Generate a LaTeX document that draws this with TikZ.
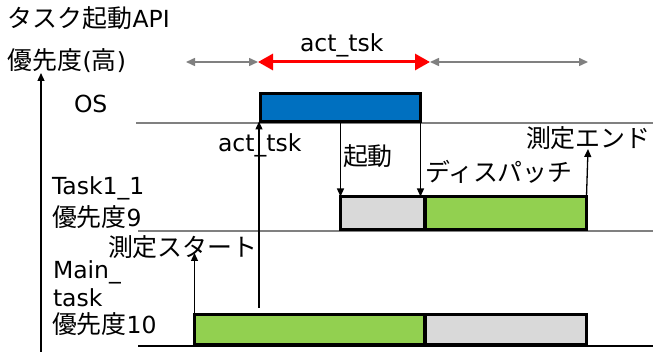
\documentclass[tikz,border=0pt]{standalone}
\usepackage{fontspec}
\setmainfont{DejaVu Sans}
\newfontfamily\cjk[Scale=1.06]{Noto Sans CJK JP}
\usetikzlibrary{arrows.meta}
\definecolor{osblue}{HTML}{0070C0}
\definecolor{rgreen}{HTML}{92D050}
\definecolor{rgray}{HTML}{D9D9D9}
\definecolor{linegray}{HTML}{808080}
\begin{document}
\begin{tikzpicture}[x=1pt,y=-1pt,
  every node/.style={inner sep=0pt, outer sep=0pt},
  txt/.style={anchor=base west, font=\fontsize{23.5}{28}\selectfont},
  bar/.style={draw=black, line width=3pt, rectangle},
  conn/.style={line width=1.3pt, -{Triangle[length=8pt,width=7pt]}},
  rule/.style={draw=linegray, line width=1.3pt},
  garrow/.style={draw=linegray, line width=1.5pt, {Triangle[length=9pt,width=8pt]}-{Triangle[length=9pt,width=8pt]}},
  rarrow/.style={draw=red, line width=3pt, {Triangle[length=15pt,width=16pt]}-{Triangle[length=15pt,width=16pt]}}]
\useasboundingbox (0,0) rectangle (653,352);
% baselines
\coordinate (l1a) at (136,123); \coordinate (l1b) at (653,123);
\coordinate (l2a) at (138,231); \coordinate (l2b) at (653,231);
\coordinate (l3a) at (138,346); \coordinate (l3b) at (653,346);
\draw[rule] (l1a) -- (l1b);
\draw[rule] (l2a) -- (l2b);
\draw[line width=1.3pt] (l3a) -- (l3b);
% axis
\coordinate (axb) at (41,352); \coordinate (axt) at (41,73);
\draw[conn] (axb) -- (axt);
% top arrows
\coordinate (a0) at (186,62); \coordinate (a1) at (258,62);
\coordinate (a2) at (430,62); \coordinate (a3) at (588,62);
\draw[garrow] (a0) -- (a1);
\draw[garrow] (a2) -- (a3);
\draw[rarrow] (a1) -- (a2);
% bars
\node[bar, fill=osblue, minimum width=160pt, minimum height=28pt] (os) at (340.5,107.5) {};
\node[bar, fill=rgray, minimum width=84pt, minimum height=33pt] (tg) at (382.5,213) {};
\node[bar, fill=rgreen, minimum width=161pt, minimum height=33pt] (tgr) at (506,213) {};
\node[bar, fill=rgreen, minimum width=230pt, minimum height=30pt] (mg) at (309.5,329.5) {};
\node[bar, fill=rgray, minimum width=161pt, minimum height=30pt] (mgr) at (506,329.5) {};
% connectors
\coordinate (actfoot) at (259,308);
\draw[conn] (actfoot) -- (actfoot |- os.south);
\draw[conn] (tg.north west |- os.south) -- (tg.north west);
\draw[conn] (os.south east) -- (os.south east |- tg.north);
\coordinate (endtop) at (588,149);
\draw[conn] (tgr.north east) -- (endtop);
\coordinate (starttop) at (194.5,253);
\draw[conn] (mg.south west) -- (starttop);
% labels
\node[txt] (title) at (8,28) {{\cjk タスク起動}API};
\node[txt] (prio) at (8,70) {{\cjk 優先度}({\cjk 高})};
\node[txt] (actlbl) at (300,52) {act\_tsk};
\node[txt] (oslbl) at (74,113) {OS};
\node[txt] (act2) at (218,152) {act\_tsk};
\node[txt] (kido) at (343,166) {\cjk 起動};
\node[txt] (disp) at (425,182) {\cjk ディスパッチ};
\node[txt] (mend) at (526,148) {\cjk 測定エンド};
\node[txt] (t1) at (52,195) {Task1\_1};
\node[txt] (t1p) at (52,227) {{\cjk 優先度}9};
\node[txt] (mstart) at (108,257) {\cjk 測定スタート};
\node[txt] (mn1) at (53,279) {Main\_};
\node[txt] (mn2) at (53,307) {task};
\node[txt] (mnp) at (52,334) {{\cjk 優先度}10};
\end{tikzpicture}
\end{document}
